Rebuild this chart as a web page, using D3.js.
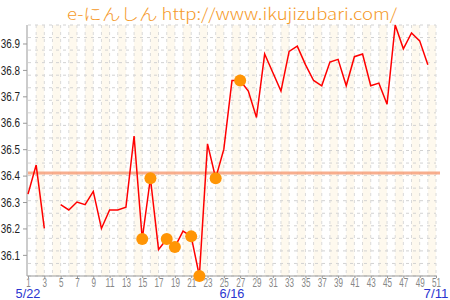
<!DOCTYPE html>
<html>
<head>
<meta charset="utf-8">
<script src="https://cdn.jsdelivr.net/npm/d3@7"></script>
<style>
  body { margin: 0; background: #fff; }
  text { font-family: "Liberation Sans", Arial, sans-serif; }
</style>
</head>
<body>
<div id="container"></div>
<script>
/* CONSTANTS AND GLOBALS */
const width = 450
const height = 300
const margin = { top: 25, bottom: 24, left: 28, right: 14 }

// basal temperature per cycle day (index 0 = day 1), null = not measured
const temps = [
  36.33, 36.44, 36.20, null, 36.29, 36.27, 36.30, 36.29, 36.34, 36.20,
  36.27, 36.27, 36.28, 36.55, 36.16, 36.39, 36.12, 36.16, 36.13, 36.19,
  36.17, 36.02, 36.52, 36.39, 36.50, 36.76, 36.76, 36.72, 36.62, 36.86,
  36.79, 36.72, 36.87, 36.89, 36.82, 36.76, 36.74, 36.83, 36.84, 36.74,
  36.85, 36.86, 36.74, 36.75, 36.67, 36.97, 36.88, 36.94, 36.91, 36.82,
  null
]
const markedDays = [15, 16, 18, 19, 21, 22, 24, 27]
const coverLine = 36.41
const xTicks = [1, 3, 5, 7, 9, 11, 13, 15, 17, 19, 21, 23, 25, 27, 29, 31, 33, 35, 37, 39, 41, 43, 45, 47, 49, 51]
const yTicks = [36.1, 36.2, 36.3, 36.4, 36.5, 36.6, 36.7, 36.8, 36.9]
const dateDays = [1, 26, 51]
const dateLabels = ["5/22", "6/16", "7/11"]
const title = "e-にんしん http://www.ikujizubari.com/"

const data = temps.map((t, i) => ({ day: i + 1, temp: t }))

// squeeze text to look like a narrow font (no narrow face installed)
function squeeze(sel, perChar) {
  sel.each(function () {
    const n = this.textContent.length
    d3.select(this)
      .attr("textLength", n * perChar)
      .attr("lengthAdjust", "spacingAndGlyphs")
  })
}

// SCALES
const xScale = d3.scaleLinear()
  .domain([1, temps.length])
  .range([margin.left, width - margin.right])

const yScale = d3.scaleLinear()
  .domain(d3.extent(temps))
  .range([height - margin.bottom, margin.top])

// CREATE SVG ELEMENT
const svg = d3.select("#container")
  .append("svg")
  .attr("width", width)
  .attr("height", height)

// stripes every other day
const stripeDays = data.filter(d => d.day % 2 === 0 && d.day < temps.length).map(d => d.day)
svg.selectAll(".stripe")
  .data(stripeDays)
  .join("rect")
  .attr("class", "stripe")
  .attr("x", d => xScale(d))
  .attr("y", margin.top)
  .attr("width", d => xScale(d + 1) - xScale(d))
  .attr("height", height - margin.bottom - margin.top)
  .attr("fill", "#fef9ee")

// grid
const [y0, y1] = yScale.domain()
const hGrid = d3.range(21).map(i => y0 + i * (y1 - y0) / 20)
svg.selectAll(".hgrid")
  .data(hGrid)
  .join("line")
  .attr("class", "hgrid")
  .attr("x1", margin.left)
  .attr("x2", width - margin.right)
  .attr("y1", d => yScale(d))
  .attr("y2", d => yScale(d))
  .attr("stroke", "#d2d2d2")
  .attr("stroke-dasharray", "3,4")

svg.selectAll(".vgrid")
  .data(data.slice(1))
  .join("line")
  .attr("class", "vgrid")
  .attr("x1", d => xScale(d.day))
  .attr("x2", d => xScale(d.day))
  .attr("y1", margin.top)
  .attr("y2", height - margin.bottom)
  .attr("stroke", "#dadada")
  .attr("stroke-dasharray", "3,4")

// cover line
svg.append("line")
  .attr("x1", margin.left)
  .attr("x2", width - margin.right + 4)
  .attr("y1", yScale(coverLine))
  .attr("y2", yScale(coverLine))
  .attr("stroke", "#f7a07a")
  .attr("stroke-opacity", 0.85)
  .attr("stroke-width", 3)

// BUILD AND CALL AXES
const xAxis = d3.axisBottom(xScale)
  .tickValues(xTicks)
  .tickSize(2)
  .tickPadding(0)

const xAxisGroup = svg.append("g")
  .attr("class", "xAxis")
  .attr("transform", `translate(0, ${height - margin.bottom})`)
  .call(xAxis)

xAxisGroup.select(".domain").attr("stroke", "#999").attr("d", `M${margin.left - 1},0H${width - margin.right + 1}`)
xAxisGroup.selectAll(".tick line").attr("stroke", "#999")
xAxisGroup.selectAll("text")
  .attr("fill", "#888")
  .attr("font-size", 13)
  .call(squeeze, 4.5)

const yAxis = d3.axisLeft(yScale)
  .tickValues(yTicks)
  .tickFormat(d3.format(".1f"))
  .tickSize(4)
  .tickPadding(3)

const yAxisGroup = svg.append("g")
  .attr("class", "yAxis")
  .attr("transform", `translate(${margin.left - 1}, 0)`)
  .call(yAxis)

yAxisGroup.select(".domain").attr("stroke", "#999").attr("d", `M0,${margin.top}V${height - margin.bottom}`)
yAxisGroup.selectAll(".tick line").attr("stroke", "#999")
yAxisGroup.selectAll("text")
  .attr("fill", "#222")
  .attr("font-size", 13)
  .call(squeeze, 4.8)

// date labels
svg.selectAll(".date")
  .data(dateDays)
  .join("text")
  .attr("class", "date")
  .attr("x", d => xScale(d))
  .attr("y", 298)
  .attr("text-anchor", "middle")
  .attr("fill", "#2a35d0")
  .attr("font-size", 13)
  .text((d, i) => dateLabels[i])
  .call(squeeze, 6.2)

// LINE GENERATOR FUNCTION
const line = d3.line()
  .defined(d => d.temp !== null)
  .x(d => xScale(d.day))
  .y(d => yScale(d.temp))

svg.append("path")
  .datum(data)
  .attr("fill", "none")
  .attr("stroke", "#ff0000")
  .attr("stroke-width", 1.5)
  .attr("d", line)

// marked days
svg.selectAll(".dot")
  .data(data.filter(d => markedDays.includes(d.day)))
  .join("circle")
  .attr("class", "dot")
  .attr("cx", d => xScale(d.day))
  .attr("cy", d => yScale(d.temp))
  .attr("r", 6)
  .attr("fill", "#ff9505")

// title
svg.append("text")
  .attr("x", 232)
  .attr("y", 20)
  .attr("text-anchor", "middle")
  .attr("fill", "#f59a2a")
  .attr("font-size", 16)
  .attr("textLength", 330)
  .attr("lengthAdjust", "spacingAndGlyphs")
  .style("font-family", "'Noto Sans CJK JP', 'DejaVu Sans', sans-serif")
  .style("font-weight", 300)
  .text(title)
</script>
</body>
</html>
